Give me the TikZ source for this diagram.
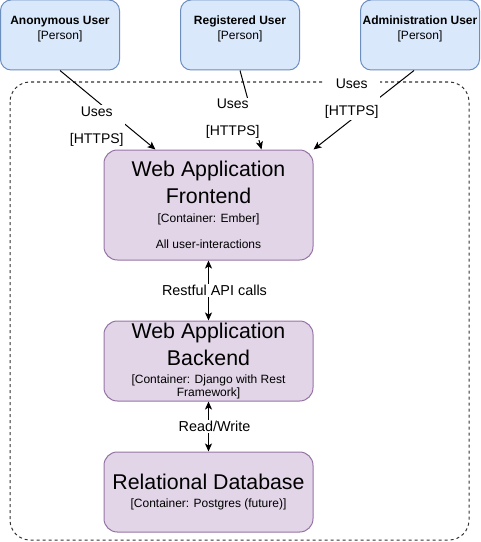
\documentclass[tikz,border=0pt]{standalone}
\usepackage{fontspec}
\setmainfont{Liberation Sans}
\usetikzlibrary{
  arrows.meta,
  positioning
}
\definecolor{personfill}{RGB}{218, 232, 252}
\definecolor{personline}{RGB}{108, 142, 191}
\definecolor{containerfill}{RGB}{225, 213, 231}
\definecolor{containerline}{RGB}{150, 115, 166}
\definecolor{boundarycolor}{RGB}{51, 51, 51}
\newcommand{\titlefont}{\fontsize{16}{20}\selectfont}
\newcommand{\infofont}{\fontsize{9}{20}\selectfont}
\tikzset{
personblock/.style={
  draw=personline,
  fill=personfill,
  line width=0.75pt,
  rounded corners=8pt,
  minimum width=89.25pt,
  minimum height=52.5pt,
  inner xsep=1pt,
  align=center,
  font=\fontsize{9}{11.25}\selectfont,
  text depth=11pt
},
containerblock/.style={
  draw=containerline,
  fill=containerfill,
  line width=0.75pt,
  rounded corners=10pt,
  minimum width=156.75pt,
  minimum height=60pt,
  inner ysep=1pt,
  align=center,
  font=\infofont
},
boundary/.style={
  draw=boundarycolor,
  line width=0.75pt,
  dash pattern=on 2.25pt off 2.25pt,
  rounded corners=15pt
},
arrow/.style={
  -{Stealth[length=6pt,width=5.25pt,inset=1.5pt]},
  line width=0.75pt
},
biarrow/.style={
  arrow,
  {Stealth[length=6pt,width=5.25pt,inset=1.5pt]}-{Stealth[length=6pt,width=5.25pt,inset=1.5pt]}
},
uselabel/.style={
  fill=white,
  inner sep=1pt,
  align=center,
  font=\fontsize{10.5}{20.25}\selectfont
},
flowlabel/.style={
  fill=white,
  inner sep=1pt,
  font=\fontsize{10.8}{13}\selectfont
}
}

\begin{document}
\begin{tikzpicture}[x=0.75pt, y=-0.75pt]
  \useasboundingbox (0,0) rectangle (481,542);
  % system boundary
  \draw[boundary] (10,82) rectangle (469,540);
  % users
  \node[personblock] (anon) at (60,35) {\textbf{Anonymous User}\\{[Person]}};
  \node[personblock] (reg) at (240,35) {\textbf{Registered User}\\{[Person]}};
  \node[personblock] (admin) at (420,35) {\textbf{Administration User}\\{[Person]}};
  % containers
  \node[containerblock, minimum height=82.5pt] (front) at (208.5,205)
    {\titlefont Web Application\\\titlefont Frontend\\[-6pt]\infofont [Container: Ember]\\All user-interactions};
  \node[containerblock, below=45pt of front] (back)
    {\titlefont Web Application\\\titlefont Backend\\[-6pt]\infofont [Container: Django with Rest\\[-10.5pt]Framework]};
  \node[containerblock, below=37.5pt of back] (db)
    {\titlefont Relational Database\\[-6pt]\infofont [Container: Postgres (future)]};
  % relations
  \draw[arrow] (anon.south) -- node[uselabel, xshift=-8.25pt, yshift=-12.4pt] {Uses\\{[HTTPS]}} ([xshift=-39.75pt]front.north);
  \draw[arrow] (reg.south) -- node[uselabel, xshift=-13.5pt, yshift=-6.75pt] {Uses\\{[HTTPS]}} ([xshift=39.75pt]front.north);
  \draw[arrow] ([xshift=-4.5pt]admin.south) -- node[uselabel, xshift=-9pt, yshift=8.25pt] {Uses\\{[HTTPS]}} (front.north east);
  \draw[biarrow] (front.south) -- node[flowlabel, xshift=4.5pt] {Restful API calls} (back.north);
  \draw[biarrow] (back.south) -- node[flowlabel, xshift=4.5pt] {Read/Write} (db.north);
\end{tikzpicture}
\end{document}
